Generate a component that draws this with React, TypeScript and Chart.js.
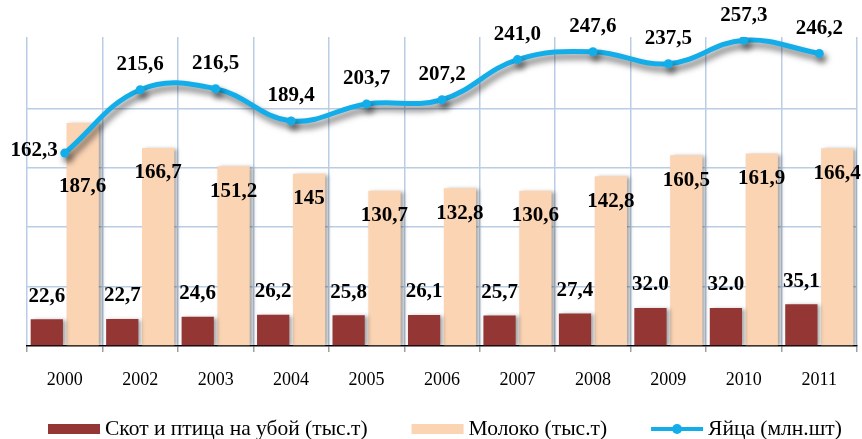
import { useEffect, useRef } from 'react';
import { Chart, registerables } from 'chart.js';

Chart.register(...registerables);

const years = ['2000', '2002', '2003', '2004', '2005', '2006', '2007', '2008', '2009', '2010', '2011'];
const cattle = [22.6, 22.7, 24.6, 26.2, 25.8, 26.1, 25.7, 27.4, 32.0, 32.0, 35.1];
const milk = [187.6, 166.7, 151.2, 145, 130.7, 132.8, 130.6, 142.8, 160.5, 161.9, 166.4];
const eggs = [162.3, 215.6, 216.5, 189.4, 203.7, 207.2, 241.0, 247.6, 237.5, 257.3, 246.2];

const cattleLabels = ['22,6', '22,7', '24,6', '26,2', '25,8', '26,1', '25,7', '27,4', '32.0', '32.0', '35,1'];
const milkLabels = ['187,6', '166,7', '151,2', '145', '130,7', '132,8', '130,6', '142,8', '160,5', '161,9', '166,4'];
const eggLabels = ['162,3', '215,6', '216,5', '189,4', '203,7', '207,2', '241,0', '247,6', '237,5', '257,3', '246,2'];

const seriesNames = ['Скот и птица на убой (тыс.т)', 'Молоко (тыс.т)', 'Яйца (млн.шт)'];

const CATTLE_COLOR = '#943634';
const MILK_COLOR = '#fbd4b4';
const EGG_COLOR = '#13aeea';
const GRID_COLOR = '#b9cde5';
const SERIF = '"Liberation Serif", "Times New Roman", serif';

export default function App() {
  const ref = useRef<HTMLCanvasElement>(null);

  useEffect(() => {
    document.body.style.margin = '0';
    const canvas = ref.current;
    if (!canvas) return;

    const shadowPlugin = {
      id: 'shadows',
      beforeDatasetDraw(chart: any, args: any) {
        const ctx = chart.ctx;
        ctx.save();
        const ds = chart.data.datasets[args.index];
        if (ds.type === 'line') {
          ctx.shadowColor = 'rgba(0,0,0,0.55)';
          ctx.shadowBlur = 6;
          ctx.shadowOffsetX = 3;
          ctx.shadowOffsetY = 5;
        } else {
          ctx.shadowColor = 'rgba(0,0,0,0.35)';
          ctx.shadowBlur = 4;
          ctx.shadowOffsetX = 3;
          ctx.shadowOffsetY = 1;
        }
      },
      afterDatasetDraw(chart: any) {
        chart.ctx.restore();
      },
    };

    const labelPlugin = {
      id: 'valueLabels',
      afterDatasetsDraw(chart: any) {
        const ctx = chart.ctx;
        ctx.save();
        ctx.font = `bold 21px ${SERIF}`;
        ctx.fillStyle = '#000';
        ctx.textBaseline = 'middle';
        ctx.textAlign = 'center';
        const mCattle = chart.getDatasetMeta(0);
        mCattle.data.forEach((bar: any, i: number) => {
          ctx.fillText(cattleLabels[i], bar.x, bar.y - 23);
        });
        const mMilk = chart.getDatasetMeta(1);
        mMilk.data.forEach((bar: any, i: number) => {
          ctx.fillText(milkLabels[i], bar.x, bar.y + (i === 0 ? 64 : 25));
        });
        const mEggs = chart.getDatasetMeta(2);
        mEggs.data.forEach((pt: any, i: number) => {
          if (i === 0) {
            ctx.textAlign = 'right';
            ctx.fillText(eggLabels[i], pt.x - 7, pt.y - 3);
            ctx.textAlign = 'center';
          } else {
            ctx.fillText(eggLabels[i], pt.x, pt.y - 25);
          }
        });
        ctx.restore();
      },
    };

    const legendPlugin = {
      id: 'customLegend',
      afterDraw(chart: any) {
        const ctx = chart.ctx;
        ctx.save();
        ctx.font = `21.5px ${SERIF}`;
        ctx.textBaseline = 'middle';
        ctx.textAlign = 'left';
        ctx.fillStyle = '#000';
        const y = 429;
        let x = 48;
        const boxW = 52;
        const items = [
          { kind: 'box', color: CATTLE_COLOR },
          { kind: 'box', color: MILK_COLOR },
          { kind: 'line', color: EGG_COLOR },
        ];
        items.forEach((it, i) => {
          if (it.kind === 'box') {
            ctx.fillStyle = it.color;
            ctx.fillRect(x, y - 5, boxW, 10);
          } else {
            ctx.strokeStyle = it.color;
            ctx.lineWidth = 4;
            ctx.beginPath();
            ctx.moveTo(x, y);
            ctx.lineTo(x + boxW, y);
            ctx.stroke();
            ctx.fillStyle = it.color;
            ctx.beginPath();
            ctx.arc(x + boxW / 2, y, 5, 0, Math.PI * 2);
            ctx.fill();
          }
          x += boxW + 5;
          ctx.fillStyle = '#000';
          ctx.fillText(seriesNames[i], x, y);
          x += ctx.measureText(seriesNames[i]).width + 44;
        });
        ctx.restore();
      },
    };

    const chart = new Chart(canvas, {
      data: {
        labels: years,
        datasets: [
          {
            type: 'bar',
            label: seriesNames[0],
            data: cattle,
            backgroundColor: CATTLE_COLOR,
            categoryPercentage: 0.95,
            barPercentage: 0.9,
            order: 1,
          },
          {
            type: 'bar',
            label: seriesNames[1],
            data: milk,
            backgroundColor: MILK_COLOR,
            categoryPercentage: 0.95,
            barPercentage: 0.9,
            order: 1,
          },
          {
            type: 'line',
            label: seriesNames[2],
            data: eggs,
            borderColor: EGG_COLOR,
            backgroundColor: EGG_COLOR,
            borderWidth: 5,
            pointRadius: 4.5,
            pointBorderWidth: 0,
            pointBackgroundColor: EGG_COLOR,
            tension: 0.4,
            fill: false,
            order: 0,
          },
        ],
      } as any,
      options: {
        responsive: false,
        animation: false,
        layout: { padding: { left: 0, right: 5, top: 37, bottom: 0 } },
        plugins: {
          legend: { display: false },
          tooltip: { enabled: false },
        },
        scales: {
          x: {
            grid: {
              offset: true,
              color: GRID_COLOR,
              lineWidth: 1.5,
              tickLength: 6,
              tickColor: '#a0a0a0',
            },
            border: { color: '#000', width: 1.5 },
            ticks: {
              color: '#000',
              font: { family: SERIF, size: 18 },
              padding: 17,
            },
            afterFit(scale: any) {
              scale.height = 93;
            },
          },
          y: {
            min: 0,
            max: 260,
            ticks: { display: false, stepSize: 50 },
            grid: {
              color: (c: any) =>
                c.tick && (c.tick.value === 0 || c.tick.value > 250) ? 'rgba(0,0,0,0)' : GRID_COLOR,
              lineWidth: 1.5,
              drawTicks: false,
            },
            border: { display: false },
            afterFit(scale: any) {
              scale.width = 27;
            },
          },
        },
      } as any,
      plugins: [shadowPlugin, labelPlugin, legendPlugin],
    });

    return () => chart.destroy();
  }, []);

  return (
    <div style={{ width: 862, height: 439 }}>
      <canvas ref={ref} width={862} height={439} />
    </div>
  );
}
